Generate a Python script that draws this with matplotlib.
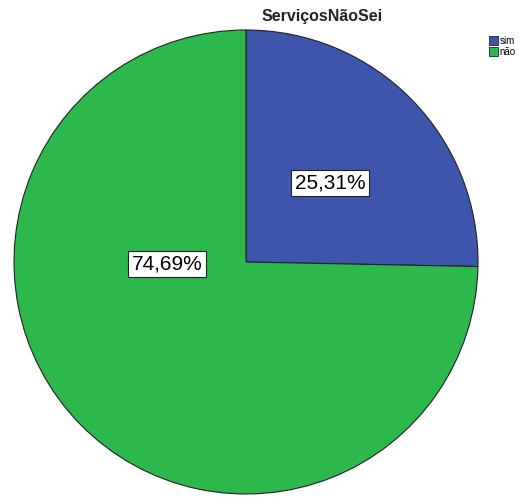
import matplotlib.pyplot as plt
from matplotlib.patches import Patch

plt.rcParams['font.family'] = ['Liberation Sans', 'DejaVu Sans']

# data
categories = ['sim', 'não']
values = [25.31, 74.69]
labels = ['25,31%', '74,69%']
colors = ['#3d56ab', '#2db84b']

fig = plt.figure(figsize=(5.2, 4.97), dpi=100)
ax = fig.add_axes([14 / 520, 3 / 497, 464 / 520, 464 / 497])

wedges, _ = ax.pie(values, colors=colors, startangle=90, counterclock=False,
                   wedgeprops=dict(edgecolor='#222222', linewidth=0.8))
ax.set_aspect('equal')
ax.set_xlim(-1, 1)
ax.set_ylim(-1, 1)

# label positions (axes data units)
label_pos = [(0.362, 0.34), (-0.34, -0.01)]
for txt, pos in zip(labels, label_pos):
    ax.text(pos[0], pos[1], txt, ha='center', va='center', fontsize=15,
            bbox=dict(facecolor='white', edgecolor='#222222', linewidth=0.8, pad=2.5))

fig.text(322 / 520, 1 - 16 / 497, 'ServiçosNãoSei', ha='center', va='center',
         fontsize=11.5, fontweight='bold', color='#222222')

handles = [Patch(facecolor=c, edgecolor='#222222', linewidth=0.6) for c in colors]
fig.legend(handles, categories, loc='upper left', bbox_to_anchor=(484 / 520, 1 - 31 / 497),
           frameon=False, fontsize=7, handlelength=0.9, handleheight=0.9,
           handletextpad=0.2, labelspacing=0.1, borderpad=0)

fig.savefig('out.png', dpi=100, facecolor='white')
